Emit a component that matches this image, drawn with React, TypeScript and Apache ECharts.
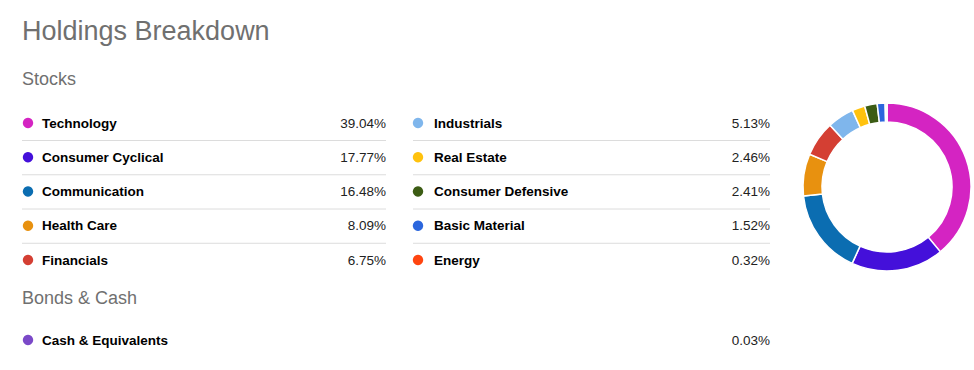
import React, { useEffect, useRef } from "react";
import * as echarts from "echarts";

const title = "Holdings Breakdown";
const stockHeading = "Stocks";
const bondHeading = "Bonds & Cash";

const stockCategories = [
  "Technology",
  "Consumer Cyclical",
  "Communication",
  "Health Care",
  "Financials",
  "Industrials",
  "Real Estate",
  "Consumer Defensive",
  "Basic Material",
  "Energy",
];
const stockValues = [39.04, 17.77, 16.48, 8.09, 6.75, 5.13, 2.46, 2.41, 1.52, 0.32];
const stockColors = [
  "#d424c2",
  "#4410da",
  "#0b6db1",
  "#e8910f",
  "#d43f33",
  "#7fb6ec",
  "#ffc20e",
  "#3c5c14",
  "#2b66dd",
  "#ff4510",
];

const bondCategories = ["Cash & Equivalents"];
const bondValues = [0.03];
const bondColors = ["#7b49c8"];

const FONT = "'Liberation Sans', Arial, sans-serif";

export default function App() {
  const ref = useRef<HTMLDivElement>(null);

  useEffect(() => {
    if (!ref.current) return;
    const chart = echarts.init(ref.current, undefined, { renderer: "svg" });

    const graphics: any[] = [];
    graphics.push({
      type: "text",
      left: 22,
      top: 17,
      style: { text: title, font: `27px ${FONT}`, fill: "#707070" },
    });
    graphics.push({
      type: "text",
      x: 22,
      y: 79,
      style: { text: stockHeading, font: `18px ${FONT}`, fill: "#707070", verticalAlign: "middle" },
    });

    const rowY = [123, 157.25, 191.5, 225.75, 260];
    const cols = [
      { dotX: 28, labelX: 42, valueX: 386, lineX1: 22 },
      { dotX: 418, labelX: 434, valueX: 770, lineX1: 413 },
    ];

    const addRow = (
      col: { dotX: number; labelX: number; valueX: number; lineX1: number },
      y: number,
      name: string,
      value: number,
      color: string,
      line: boolean
    ) => {
      graphics.push({
        type: "circle",
        shape: { cx: col.dotX, cy: y, r: 5.2 },
        style: { fill: color },
      });
      graphics.push({
        type: "text",
        x: col.labelX,
        y,
        style: {
          text: name,
          font: `bold 13.5px ${FONT}`,
          fill: "#000",
          verticalAlign: "middle",
        },
      });
      graphics.push({
        type: "text",
        x: col.valueX,
        y,
        style: {
          text: value.toFixed(2) + "%",
          font: `13.5px ${FONT}`,
          fill: "#222",
          align: "right",
          verticalAlign: "middle",
        },
      });
      if (line) {
        graphics.push({
          type: "line",
          shape: { x1: col.lineX1, y1: y + 17.5, x2: col.valueX, y2: y + 17.5 },
          style: { stroke: "#dcdcdc", lineWidth: 1 },
        });
      }
    };

    stockCategories.forEach((name, i) => {
      const c = i < 5 ? 0 : 1;
      const r = i % 5;
      addRow(cols[c], rowY[r], name, stockValues[i], stockColors[i], r < 4);
    });

    graphics.push({
      type: "text",
      x: 22,
      y: 298,
      style: { text: bondHeading, font: `18px ${FONT}`, fill: "#707070", verticalAlign: "middle" },
    });
    bondCategories.forEach((name, i) => {
      addRow(
        { dotX: 28, labelX: 42, valueX: 770, lineX1: 22 },
        340,
        name,
        bondValues[i],
        bondColors[i],
        false
      );
    });

    const pieData = [
      ...stockCategories.map((name, i) => ({
        name,
        value: stockValues[i],
        itemStyle: { color: stockColors[i] },
      })),
      ...bondCategories.map((name, i) => ({
        name,
        value: bondValues[i],
        itemStyle: { color: bondColors[i] },
      })),
    ];

    chart.setOption({
      animation: false,
      backgroundColor: "#fff",
      graphic: graphics,
      series: [
        {
          type: "pie",
          center: [887, 187],
          radius: [65, 84],
          startAngle: 90,
          clockwise: true,
          minAngle: 0,
          label: { show: false },
          labelLine: { show: false },
          silent: true,
          itemStyle: { borderColor: "#fff", borderWidth: 1.5 },
          data: pieData,
        },
      ],
    });

    return () => chart.dispose();
  }, []);

  return (
    <div
      ref={ref}
      style={{ position: "fixed", left: 0, top: 0, width: 974, height: 370 }}
    />
  );
}
